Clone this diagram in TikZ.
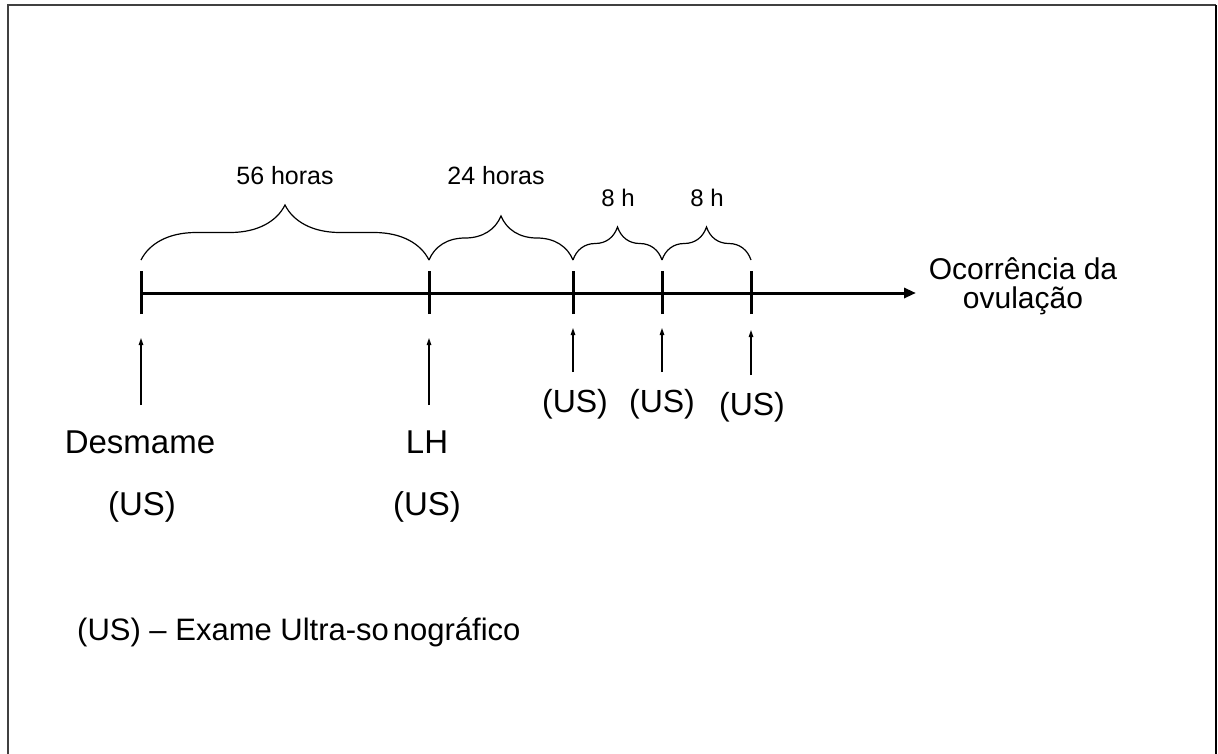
\documentclass[tikz,border=0pt]{standalone}
\usepackage{fontspec}
\setmainfont{Liberation Sans}
\usetikzlibrary{decorations.pathreplacing,arrows.meta}
\begin{document}
\begin{tikzpicture}[x=1pt,y=-1pt,
  biglbl/.style={font=\fontsize{33}{38}\selectfont, inner sep=0pt, anchor=base},
  uslbl/.style={font=\fontsize{32}{38}\selectfont, inner sep=0pt, anchor=base},
  durlbl/.style={font=\fontsize{25}{30}\selectfont, inner sep=0pt, anchor=base},
  shortlbl/.style={font=\fontsize{24}{30}\selectfont, inner sep=0pt, anchor=base},
  ovlbl/.style={font=\fontsize{30}{36}\selectfont, inner sep=0pt, anchor=base},
  legendlbl/.style={font=\fontsize{31}{36}\selectfont, inner sep=0pt, anchor=base west},
  axisline/.style={line width=3pt, -{Triangle[length=12pt,width=10pt]}},
  tickline/.style={line width=3pt},
  bracepath/.style={line width=1.2pt, decorate},
  marker/.style={line width=1.2pt, -{Triangle[length=7pt,width=4.5pt]}},
  frameline/.style={line width=2pt}
]
\useasboundingbox (0,0) rectangle (1218,753);
% frame (open at the bottom)
\draw[frameline, black!75] (8,760) -- (8,5) -- (1216,5);
\draw[frameline, black] (1216,5) -- (1216,760);

% axis positions
\coordinate (t0) at (141,293);
\coordinate (t1) at (429,293);
\coordinate (t2) at (573,293);
\coordinate (t3) at (662,293);
\coordinate (t4) at (751,293);
\coordinate (tend) at (916,293);

\draw[axisline] (t0) -- (tend);

\foreach \t in {t0,t1,t2,t3,t4}{
  \draw[tickline] ([yshift=-21pt]\t) -- ([yshift=22pt]\t);
}

% braces
\coordinate (b0) at (141,260);
\coordinate (b1) at (429,260);
\coordinate (b2) at (573,260);
\coordinate (b3) at (662,260);
\coordinate (b4) at (751,260);
\draw[bracepath, decoration={brace, amplitude=55pt}] (b0) -- (b1);
\draw[bracepath, decoration={brace, amplitude=44pt}] (b1) -- (b2);
\draw[bracepath, decoration={brace, amplitude=33pt}] (b2) -- (b3);
\draw[bracepath, decoration={brace, amplitude=33pt}] (b3) -- (b4);

\node[durlbl] (h56) at (285,184) {56 horas};
\node[durlbl] (h24) at (496,184) {24 horas};
\node[shortlbl] (h8a) at (618,206) {8 h};
\node[shortlbl] (h8b) at (707,206) {8 h};

% end label
\node[ovlbl] (oc1) at (1023,279) {Ocorrência da};
\node[ovlbl] (oc2) at (1023,308) {ovulação};

% markers
\coordinate (a0s) at (141,405); \coordinate (a0e) at (141,338);
\coordinate (a1s) at (429,405); \coordinate (a1e) at (429,338);
\coordinate (a2s) at (573,372); \coordinate (a2e) at (573,328);
\coordinate (a3s) at (662,372); \coordinate (a3e) at (662,328);
\coordinate (a4s) at (751,375); \coordinate (a4e) at (751,330);
\draw[marker] (a0s) -- (a0e);
\draw[marker] (a1s) -- (a1e);
\draw[marker] (a2s) -- (a2e);
\draw[marker] (a3s) -- (a3e);
\draw[marker] (a4s) -- (a4e);

\node[biglbl] (desm) at (140,453) {Desmame};
\node[biglbl] (desmus) at (142,515) {(US)};
\node[biglbl] (lh) at (427,453) {LH};
\node[biglbl] (lhus) at (427,515) {(US)};
\node[uslbl] (us2) at (575,412) {(US)};
\node[uslbl] (us3) at (662,412) {(US)};
\node[uslbl] (us4) at (752,415) {(US)};

\node[legendlbl] (legend) at (77,640) {(US) – Exame Ultra-so\hspace{4pt}nográfico};
\end{tikzpicture}
\end{document}
